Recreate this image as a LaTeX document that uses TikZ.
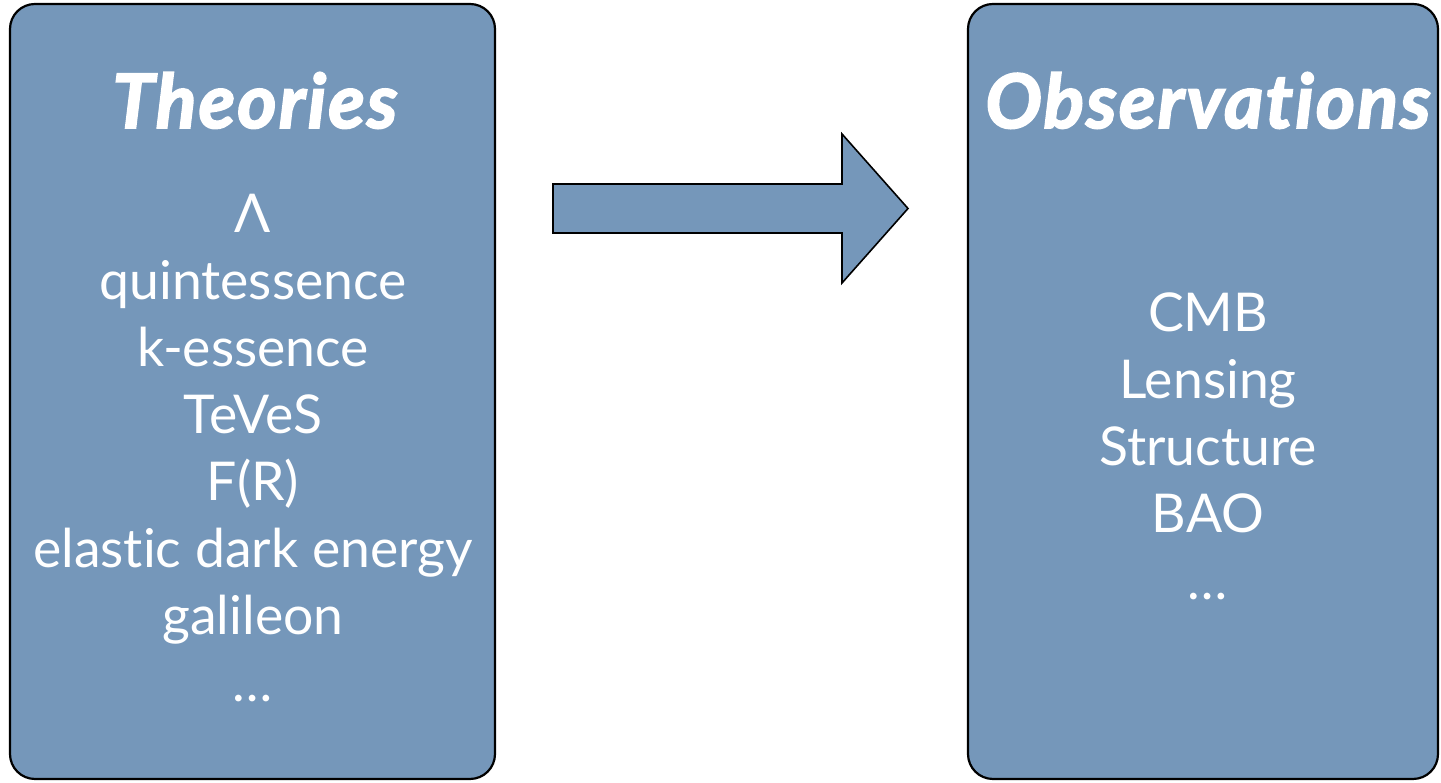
\documentclass[tikz,border=0pt]{standalone}
\usepackage{fontspec}
\setmainfont{Lato}[Ligatures=NoCommon]
\usepackage{tikz}
\definecolor{slate}{RGB}{117,151,186}

\begin{document}
\begin{tikzpicture}[x=1pt, y=1pt,
  panel/.style={draw=black, line width=2.2pt, fill=slate, rounded corners=25pt, inner sep=0pt},
  heading/.style={text=white, anchor=base, font=\fontsize{75}{80}\selectfont\bfseries\itshape\addfontfeatures{FakeBold=2.5, LetterSpace=3}},
  item/.style={text=white, anchor=base, font=\fontsize{53.5}{67}\selectfont}]
	\useasboundingbox (0,0) rectangle (1441,783);
	\node[panel, minimum width=485pt, minimum height=775pt] (theo) at (252.5,391.5){};
	\node[panel, minimum width=470pt, minimum height=775pt] (obs) at (1203,391.5){};
	\node[heading] (theotitle) at (255,655){Theories};
	\node[heading] (obstitle) at (1208,655){Observations};
	
	\foreach \t [count=\i] in {Λ, quintessence, k-essence, TeVeS, F(R), elastic dark energy, galileon, {\ldots}}
		\node[item] (th\i) at (253,617-67*\i){\t};
	\foreach \t [count=\i] in {CMB, Lensing, Structure, BAO, {\ldots}}
		\node[item] (ob\i) at (1208,518-67*\i){\t};
	
	\draw[fill=slate, line width=1.6pt, miter limit=4] (553,550) -- (842,550) -- (842,500) -- (908,574.5) -- (842,649) -- (842,599) -- (553,599) -- cycle;
\end{tikzpicture}
\end{document}
